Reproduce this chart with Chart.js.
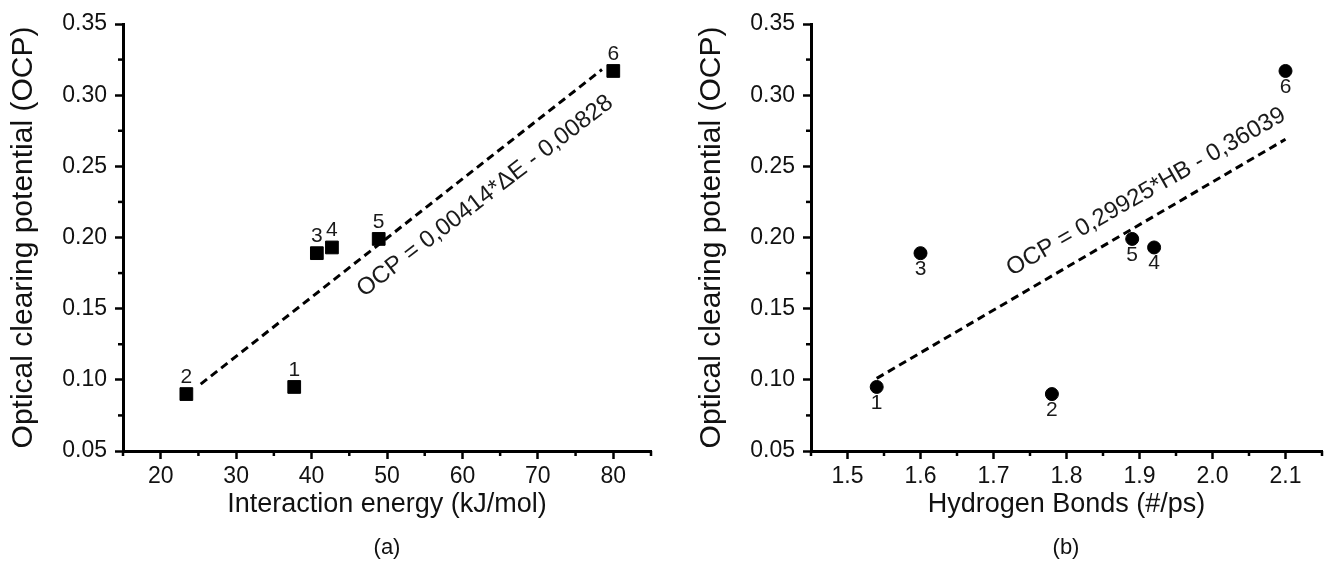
<!DOCTYPE html>
<html>
<head>
<meta charset="utf-8">
<script src="https://cdn.jsdelivr.net/npm/chart.js@4"></script>
<style>
body { margin: 0; background: #fff; width: 1342px; height: 567px; overflow: hidden; position: relative; font-family: "Liberation Sans", Arial, sans-serif; }
canvas { position: absolute; top: 0; }
#chartA { left: 0; }
#chartB { left: 688px; }
.cap { position: absolute; top: 534px; font-size: 22px; color: #111; transform: translateX(-50%); }
</style>
</head>
<body>
<canvas id="chartA" width="671" height="567"></canvas>
<canvas id="chartB" width="654" height="567"></canvas>
<div class="cap" style="left:387px">(a)</div>
<div class="cap" style="left:1066px">(b)</div>
<script>
// sample numbers (same order in every array)
var pointLabels = ['1', '2', '3', '4', '5', '6'];
var ocp = [0.095, 0.090, 0.189, 0.193, 0.199, 0.317];
var energy = [37.7, 23.4, 40.7, 42.7, 48.9, 80.0];
var hbonds = [1.54, 1.78, 1.60, 1.92, 1.89, 2.10];

// fitted lines, end points
var fitEnergyX = [25.3, 78.5];
var fitEnergyY = [0.097, 0.318];
var fitHbondX = [1.54, 2.10];
var fitHbondY = [0.101, 0.269];

// tick labels
var yTicks = [0.05, 0.10, 0.15, 0.20, 0.25, 0.30, 0.35];
var xTicksA = [20, 30, 40, 50, 60, 70, 80];
var xTicksB = [1.5, 1.6, 1.7, 1.8, 1.9, 2.0, 2.1];

var FONT = '"Liberation Sans", Arial, sans-serif';
Chart.defaults.font.family = FONT;
Chart.defaults.color = '#111';

function toPoints(xs, ys) {
    var out = [];
    for (var i = 0; i < xs.length; i++) out.push({ x: xs[i], y: ys[i] });
    return out;
}

// short ticks halfway between the labelled ones
var minorTicks = {
    id: 'minorTicks',
    afterDraw: function(chart) {
        var ctx = chart.ctx;
        ctx.save();
        ctx.strokeStyle = '#000';
        ctx.lineWidth = 2.5;
        ['x', 'y'].forEach(function(id) {
            var s = chart.scales[id];
            var t = s.ticks;
            var step = t[1].value - t[0].value;
            var vals = [];
            for (var i = 0; i < t.length; i++) vals.push(t[i].value - step / 2);
            vals.push(t[t.length - 1].value + step / 2);
            vals.forEach(function(v) {
                if (v < s.min - 1e-9 || v > s.max + 1e-9) return;
                var p = s.getPixelForValue(v);
                ctx.beginPath();
                if (id === 'x') { ctx.moveTo(p, s.top); ctx.lineTo(p, s.top + 5); }
                else { ctx.moveTo(s.right, p); ctx.lineTo(s.right - 5, p); }
                ctx.stroke();
            });
        });
        ctx.restore();
    }
};

// point numbers and the fit equation
var annotations = {
    id: 'annotations',
    afterDatasetsDraw: function(chart, args, opts) {
        var ctx = chart.ctx;
        var meta = chart.getDatasetMeta(0);
        ctx.save();
        ctx.fillStyle = '#1a1a1a';
        ctx.font = '21px ' + FONT;
        ctx.textAlign = 'center';
        ctx.textBaseline = 'middle';
        meta.data.forEach(function(el, i) {
            ctx.fillText(pointLabels[i], el.x, el.y + opts.labelDy);
        });
        var ex = chart.scales.x.getPixelForValue(opts.eqX);
        var ey = chart.scales.y.getPixelForValue(opts.eqY);
        ctx.translate(ex, ey);
        ctx.rotate(opts.eqAngle * Math.PI / 180);
        ctx.font = '24px ' + FONT;
        ctx.fillText(opts.eqText, 0, 0);
        ctx.restore();
    }
};

function makeChart(id, xs, fitX, fitY, xMin, xMax, xTicks, xDigits, xTitle, style, radius, extra) {
    return new Chart(document.getElementById(id), {
        data: {
            datasets: [{
                type: 'scatter',
                data: toPoints(xs, ocp),
                pointStyle: style,
                radius: radius,
                backgroundColor: '#000',
                borderColor: '#000',
                borderWidth: 1
            }, {
                type: 'line',
                data: toPoints(fitX, fitY),
                borderColor: '#000',
                borderWidth: 3,
                borderDash: [8, 5],
                pointRadius: 0,
                fill: false
            }]
        },
        options: {
            responsive: false,
            animation: false,
            layout: { padding: { left: 0, right: 20, top: 24, bottom: 46 } },
            plugins: {
                legend: { display: false },
                tooltip: { enabled: false },
                annotations: extra
            },
            scales: {
                x: {
                    type: 'linear',
                    min: xMin,
                    max: xMax,
                    afterBuildTicks: function(s) { s.ticks = xTicks.map(function(v) { return { value: v }; }); },
                    afterFit: function(s) { s.height = 70; },
                    grid: { drawOnChartArea: false, drawTicks: true, tickLength: 8, tickWidth: 2.5, tickColor: '#000' },
                    border: { display: true, color: '#000', width: 3 },
                    ticks: {
                        font: { size: 23 },
                        padding: 4,
                        maxRotation: 0,
                        callback: function(v) { return v.toFixed(xDigits); }
                    },
                    title: { display: true, text: xTitle, font: { size: 27 }, padding: 0 }
                },
                y: {
                    type: 'linear',
                    min: 0.05,
                    max: 0.35,
                    afterBuildTicks: function(s) { s.ticks = yTicks.map(function(v) { return { value: v }; }); },
                    afterFit: function(s) { s.width = 123; },
                    grid: { drawOnChartArea: false, drawTicks: true, tickLength: 8, tickWidth: 2.5, tickColor: '#000' },
                    border: { display: true, color: '#000', width: 3 },
                    ticks: {
                        font: { size: 23 },
                        padding: 8,
                        callback: function(v) { return v.toFixed(2); }
                    },
                    title: { display: true, text: 'Optical clearing potential (OCP)', font: { size: 30 }, padding: { top: 6, bottom: 0 } }
                }
            }
        },
        plugins: [minorTicks, annotations]
    });
}

makeChart('chartA', energy, fitEnergyX, fitEnergyY, 15, 85, xTicksA, 0,
    'Interaction energy (kJ/mol)', 'rect', 9,
    { labelDy: -17, eqX: 63, eqY: 0.229, eqAngle: -37.5, eqText: 'OCP = 0,00414*\u0394E - 0,00828' });

makeChart('chartB', hbonds, fitHbondX, fitHbondY, 1.45, 2.15, xTicksB, 1,
    'Hydrogen Bonds (#/ps)', 'circle', 6.5,
    { labelDy: 16, eqX: 1.909, eqY: 0.232, eqAngle: -29.7, eqText: 'OCP = 0,29925*HB - 0,36039' });
</script>
</body>
</html>
